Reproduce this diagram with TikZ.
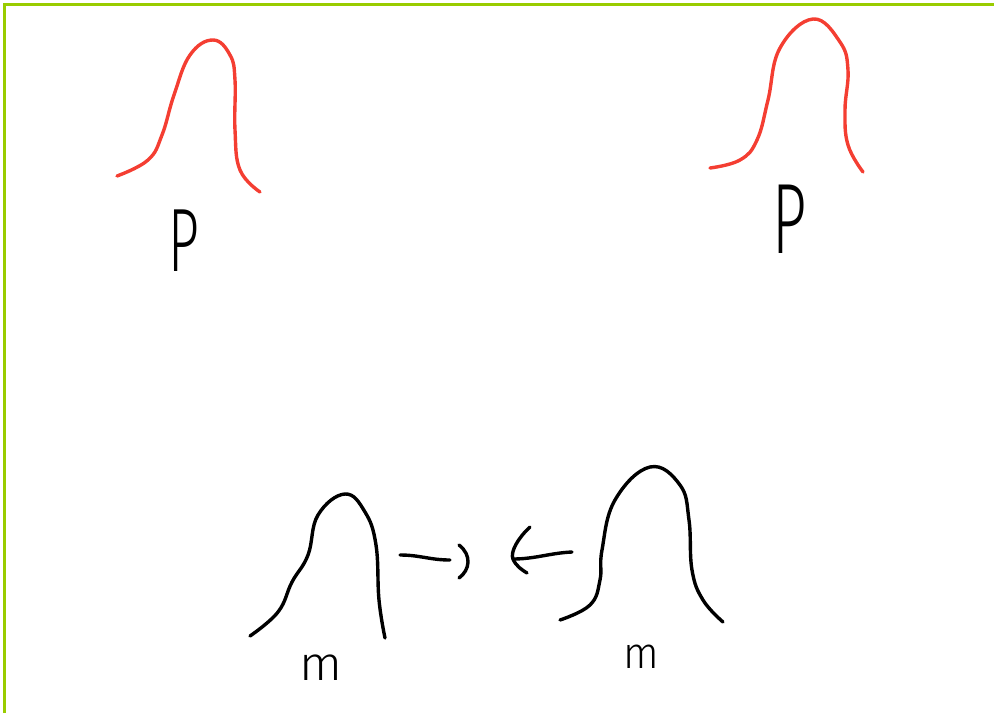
\documentclass[tikz,border=0pt]{standalone}
\usepackage{fontspec}
\newfontfamily\lab{Fira Sans Light}
\definecolor{frame}{RGB}{153,204,0}
\definecolor{pen}{RGB}{244,62,50}
\tikzset{
  redcurve/.style={draw=pen,line width=3.4pt,line cap=round,line join=round},
  blkcurve/.style={draw=black,line width=3.4pt,line cap=round,line join=round},
  letter/.style={inner sep=0pt,outer sep=0pt,font=\lab}
}
\begin{document}
\begin{tikzpicture}[x=1pt,y=-1pt]
\useasboundingbox (0,0) rectangle (994,713);
% frame
\draw[frame,line width=3.5pt] (4.5,713) -- (4.5,4.5) -- (994,4.5);
% top-left red curve
\draw[redcurve] plot[smooth,tension=0.7] coordinates {(117,176) (148,160) (162,135) (174,95) (190,55) (213,40) (230,55) (235,80) (235,130) (240,170) (260,192)};
% top-right red curve
\draw[redcurve] plot[smooth,tension=0.7] coordinates {(710,168) (740,160) (757,140) (768,100) (780,48) (813,19) (840,42) (848,70) (845,110) (848,145) (863,172)};
% bottom-left black curve
\draw[blkcurve] plot[smooth,tension=0.7] coordinates {(250,636) (278,612) (292,582) (308,555) (318,515) (345,494) (365,512) (376,545) (379,600) (385,638)};
% bottom-right black curve
\draw[blkcurve] plot[smooth,tension=0.7] coordinates {(560,620) (590,605) (600,580) (602,550) (615,500) (650,467) (680,485) (689,520) (692,570) (703,600) (723,622)};
% labels
\node[letter] (p1) at (184,241) {\fontsize{90}{90}\selectfont\scalebox{0.6}[1]{P}};
\node[letter] (p2) at (790,219) {\fontsize{100}{100}\selectfont\scalebox{0.6}[1]{P}};
\node[letter] (m1) at (321,668) {\fontsize{48}{48}\selectfont\scalebox{1.05}[1]{m}};
\node[letter] (m2) at (641,657) {\fontsize{44}{44}\selectfont\scalebox{0.95}[1]{m}};
% arrows
\coordinate (a1s) at (400,555);
\coordinate (a1e) at (450,560);
\draw[blkcurve] (a1s) .. controls (420,555) and (430,560) .. (a1e);
\draw[blkcurve] (459,545) .. controls (472,555) and (470,570) .. (459,578);
\coordinate (a2s) at (572,552);
\coordinate (a2e) at (513,559);
\draw[blkcurve] (a2s) .. controls (550,553) and (535,559) .. (a2e);
\draw[blkcurve] (530,527) .. controls (518,538) and (510,552) .. (513,559) .. controls (516,566) and (522,570) .. (527,573);
\end{tikzpicture}
\end{document}
